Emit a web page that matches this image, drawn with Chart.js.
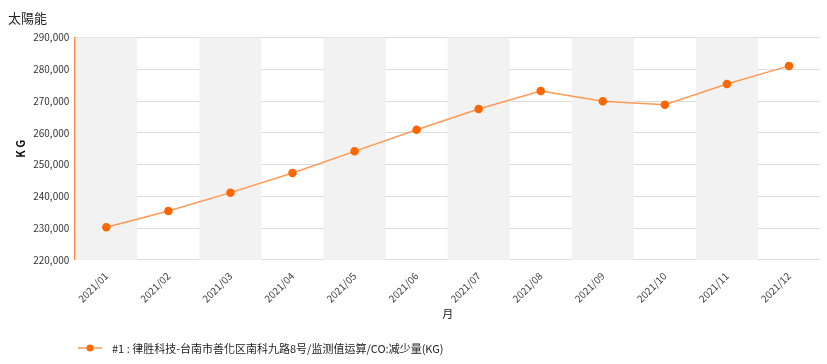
<!DOCTYPE html>
<html>
<head>
<meta charset="utf-8">
<script src="https://cdn.jsdelivr.net/npm/chart.js@4/dist/chart.umd.min.js"></script>
<style>
  html, body { margin: 0; padding: 0; background: #fff; }
  #wrap { width: 827px; height: 364px; position: relative; }
  #legend { position: absolute; left: 78px; top: 340px; font: 11px "Noto Sans CJK TC", "Noto Sans", sans-serif; color: #222; display: flex; align-items: center; }
  #legend canvas { margin-right: 10px; }
</style>
</head>
<body>
<div id="wrap"><canvas id="Chart"></canvas><div id="legend"></div></div>
<script>
const months = ['2021/01', '2021/02', '2021/03', '2021/04', '2021/05', '2021/06',
                '2021/07', '2021/08', '2021/09', '2021/10', '2021/11', '2021/12'];
const reduction = [230300, 235400, 241200, 247400, 254200, 261000,
                   267500, 273200, 270000, 268900, 275400, 281100];
const yMin = 220000, yMax = 290000, yStep = 10000;
const seriesName = '#1 : 律胜科技-台南市善化区南科九路8号/监测值运算/CO:减少量(KG)';

const FONT = '"Noto Sans CJK TC", "Noto Sans", sans-serif';

// alternating grey columns behind the line
const bandPlugin = {
  id: 'bands',
  beforeDatasetsDraw(chart) {
    const { ctx, chartArea, scales } = chart;
    const x = scales.x;
    const w = (chartArea.right - chartArea.left) / months.length;
    ctx.save();
    ctx.fillStyle = '#f2f2f2';
    months.forEach((m, i) => {
      if (i % 2 === 0) {
        const cx = x.getPixelForValue(i);
        ctx.fillRect(cx - w / 2, chartArea.top, w, chartArea.bottom - chartArea.top);
      }
    });
    ctx.restore();
  }
};

// legend marker: short line with a dot
const marker = document.createElement('canvas');
marker.width = 24; marker.height = 10;
const mctx = marker.getContext('2d');
mctx.strokeStyle = '#ff9955'; mctx.lineWidth = 1.5;
mctx.beginPath(); mctx.moveTo(0, 5); mctx.lineTo(24, 5); mctx.stroke();
mctx.fillStyle = '#ff6600';
mctx.beginPath(); mctx.arc(12, 5, 3.5, 0, Math.PI * 2); mctx.fill();
const legendEl = document.getElementById('legend');
legendEl.appendChild(marker);
const legendText = document.createElement('span');
legendText.textContent = seriesName;
legendEl.appendChild(legendText);

const ctx = document.getElementById('Chart');
new Chart(ctx, {
  type: 'line',
  data: {
    labels: months,
    datasets: [{
      label: seriesName,
      data: reduction,
      borderColor: '#ff9955',
      borderWidth: 1.5,
      pointBackgroundColor: '#ff6600',
      pointBorderColor: '#ff6600',
      pointRadius: 3.5,
      pointStyle: 'circle',
      tension: 0
    }]
  },
  options: {
    responsive: true,
    maintainAspectRatio: false,
    animation: false,
    layout: { padding: { left: 8, right: 7, top: 0, bottom: 44 } },
    plugins: {
      title: {
        display: true,
        text: '太陽能',
        align: 'start',
        color: '#222',
        font: { family: FONT, size: 13, weight: 'normal' },
        padding: { top: 10, bottom: 12 }
      },
      legend: { display: false },
      tooltip: { enabled: false }
    },
    scales: {
      x: {
        offset: true,
        grid: { display: false },
        border: { color: '#dddddd', width: 1 },
        ticks: {
          color: '#444',
          font: { family: FONT, size: 10 },
          minRotation: 45,
          maxRotation: 45,
          padding: 2
        },
        title: {
          display: true,
          text: '月',
          color: '#222',
          font: { family: FONT, size: 11 },
          padding: { top: 0, bottom: 0 }
        }
      },
      y: {
        min: yMin,
        max: yMax,
        grid: { color: '#dddddd', drawTicks: false },
        border: { color: '#ff8c4a', width: 2 },
        ticks: {
          stepSize: yStep,
          color: '#333',
          font: { family: FONT, size: 10 },
          padding: 6,
          callback: v => v.toLocaleString('en-US')
        },
        title: {
          display: true,
          text: 'K G',
          color: '#111',
          font: { family: FONT, size: 11, weight: 'bold' },
          padding: { top: 6, bottom: 0 }
        }
      }
    }
  },
  plugins: [bandPlugin]
});
</script>
</body>
</html>
